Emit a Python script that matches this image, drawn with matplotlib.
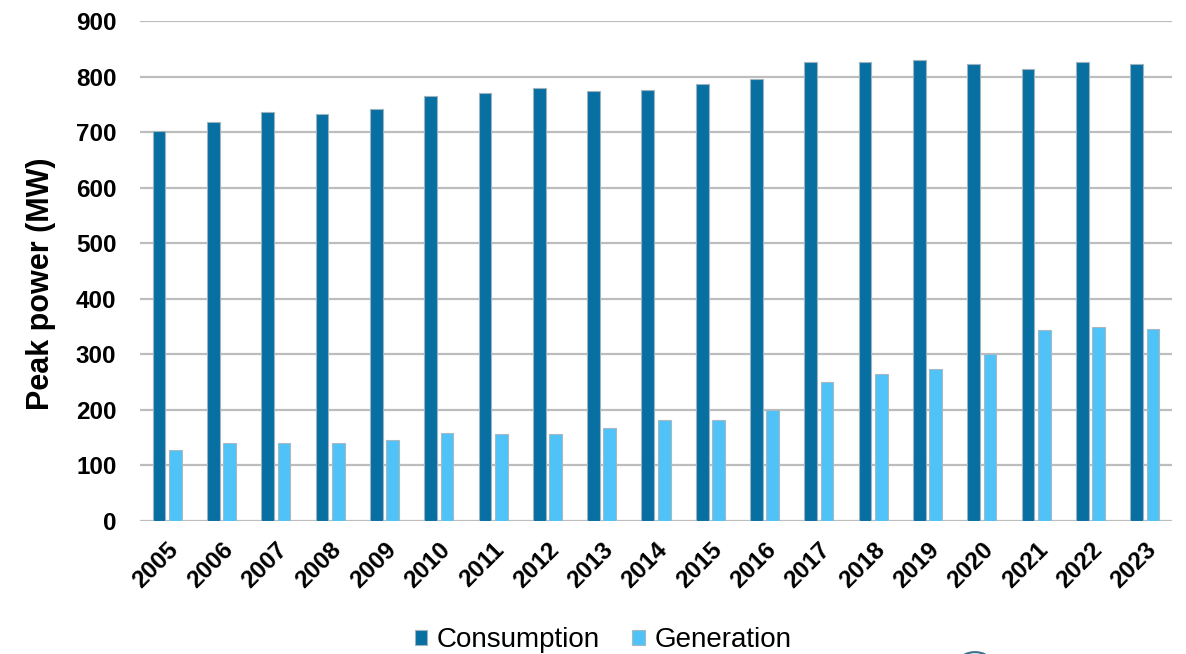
import matplotlib
matplotlib.use("Agg")
import matplotlib.pyplot as plt
import matplotlib.transforms as mtransforms
import numpy as np

plt.rcParams['font.family'] = ['Liberation Sans', 'DejaVu Sans']

years = ["2005", "2006", "2007", "2008", "2009", "2010", "2011", "2012", "2013", "2014",
         "2015", "2016", "2017", "2018", "2019", "2020", "2021", "2022", "2023"]
consumption = [702, 718, 736, 732, 741, 765, 771, 780, 774, 775,
               786, 795, 827, 827, 830, 823, 814, 827, 823]
generation = [127, 141, 141, 141, 145, 159, 157, 157, 168, 182,
              182, 200, 250, 264, 274, 300, 343, 350, 346]
y_ticks = [0, 100, 200, 300, 400, 500, 600, 700, 800, 900]

fig = plt.figure(figsize=(11.86, 6.54), dpi=100)
ax = fig.add_axes([140 / 1186, 1 - 521 / 654, 1032 / 1186, 500 / 654])

x = np.arange(len(years))
w = 0.235
ax.bar(x - 0.15, consumption, w, color="#076FA1", edgecolor="#9DB3C0",
       linewidth=0.8, label="Consumption", zorder=3)
ax.bar(x + 0.15, generation, w, color="#4FC3F7", edgecolor="#A8B8C2",
       linewidth=0.8, label="Generation", zorder=3)

ax.set_xlim(-0.5, len(years) - 0.5)
ax.set_ylim(0, 900)
ax.set_yticks(y_ticks)
ax.set_yticklabels([str(v) for v in y_ticks], fontsize=17.5, fontweight="bold")
ax.set_xticks(x)
ax.set_xticklabels(years, rotation=45, ha="right", va="center", rotation_mode="anchor",
                   fontsize=17.5, fontweight="bold")
ax.tick_params(axis="y", length=0, pad=17)
ax.tick_params(axis="x", length=0, pad=18)
shift = mtransforms.ScaledTranslation(8 / 100, 0, fig.dpi_scale_trans)
for lbl in ax.get_xticklabels():
    lbl.set_transform(lbl.get_transform() + shift)
ax.yaxis.grid(True, color="#BDBDBD", linewidth=1.6, zorder=0)
ax.set_axisbelow(True)
for s in ax.spines.values():
    s.set_visible(False)

ax.set_ylabel("Peak power (MW)", fontsize=22, fontweight="bold")
ax.yaxis.set_label_coords(-84 / 1032, 0.5 + (521 - 283.5 - 250) / 500)

fig.legend(loc="center", bbox_to_anchor=(603 / 1186, 1 - 640 / 654), ncol=2,
           frameon=False, fontsize=20, handlelength=0.45, handleheight=0.45,
           handletextpad=0.35, columnspacing=1.15, borderaxespad=0)

# small ring partially visible at the bottom edge
ring = matplotlib.patches.Circle((975 / 1186, -6 / 654), 0.012, transform=fig.transFigure,
                                 facecolor="none", edgecolor="#3D6F8E", linewidth=1.5,
                                 clip_on=False)
fig.patches.append(ring)

fig.savefig("out.png", dpi=100)
